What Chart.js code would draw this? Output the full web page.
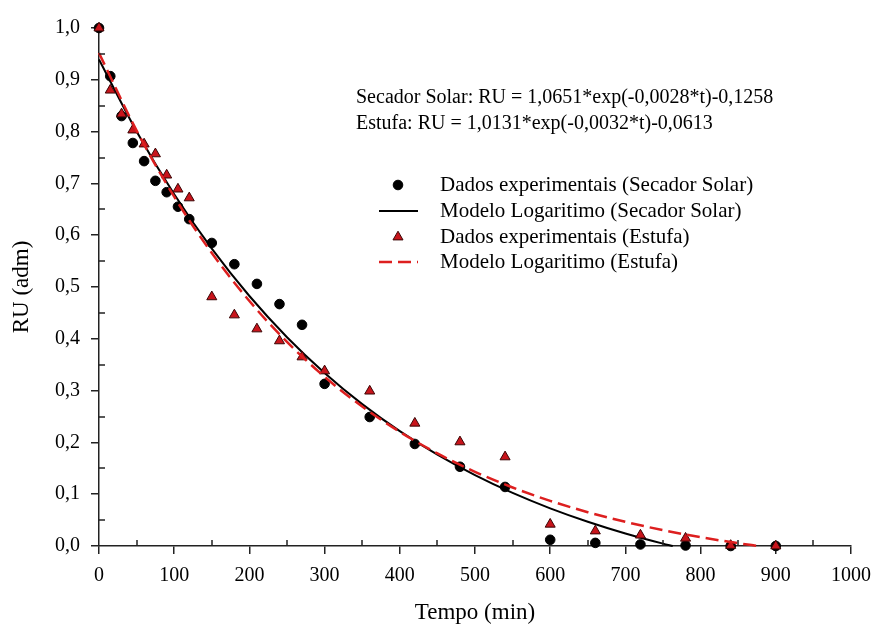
<!DOCTYPE html>
<html>
<head>
<meta charset="utf-8">
<script src="https://cdn.jsdelivr.net/npm/chart.js@4.4.1/dist/chart.umd.min.js"></script>
<style>
  html, body { margin: 0; padding: 0; background: #fff; }
</style>
</head>
<body>
<canvas id="myChart" width="874" height="630"></canvas>
<script>
// tempos de secagem (min)
const tempo = [0, 15, 30, 45, 60, 75, 90, 105, 120, 150, 180, 210, 240, 270, 300, 360, 420, 480, 540, 600, 660, 720, 780, 840, 900];
// razao de umidade medida
const ruSolar  = [1.000, 0.907, 0.830, 0.778, 0.743, 0.705, 0.683, 0.655, 0.631, 0.585, 0.544, 0.506, 0.467, 0.427, 0.313, 0.249, 0.197, 0.153, 0.114, 0.012, 0.006, 0.003, 0.001, 0.000, 0.000];
const ruEstufa = [1.000, 0.880, 0.834, 0.803, 0.776, 0.757, 0.716, 0.689, 0.672, 0.481, 0.446, 0.419, 0.396, 0.365, 0.338, 0.299, 0.237, 0.201, 0.172, 0.042, 0.029, 0.021, 0.015, 0.001, 0.000];

// curvas do modelo ajustado
const tempoModeloSolar = [0, 50, 100, 150, 200, 250, 300, 350, 400, 450, 500, 550, 600, 650, 700, 750, 763];
const ruModeloSolar = [0.9393, 0.8002, 0.6792, 0.5740, 0.4826, 0.4031, 0.3340, 0.2739, 0.2217, 0.1763, 0.1369, 0.1025, 0.0727, 0.0468, 0.0242, 0.0046, 0.0];
const tempoModeloEstufa = [0, 50, 100, 150, 200, 250, 300, 350, 400, 450, 500, 550, 600, 650, 700, 750, 800, 850, 877];
const ruModeloEstufa = [0.9518, 0.8020, 0.6744, 0.5656, 0.4729, 0.3939, 0.3266, 0.2693, 0.2204, 0.1787, 0.1432, 0.1130, 0.0872, 0.0653, 0.0466, 0.0306, 0.0170, 0.0054, 0.0];

const equacoes = [
  'Secador Solar: RU = 1,0651*exp(-0,0028*t)-0,1258',
  'Estufa: RU = 1,0131*exp(-0,0032*t)-0,0613'
];

const serif = '"Liberation Serif", "Times New Roman", serif';
const vermelho = '#dd1f1f';

function pares(xs, ys) {
  return xs.map((x, i) => ({ x: x, y: ys[i] }));
}

const data = {
  datasets: [
    {
      label: 'Dados experimentais (Secador Solar)',
      type: 'scatter',
      data: pares(tempo, ruSolar),
      pointStyle: 'circle',
      pointRadius: 4.8,
      backgroundColor: '#000',
      borderColor: '#000',
      borderWidth: 1,
      clip: false,
      order: 4
    },
    {
      label: 'Modelo Logaritimo (Secador Solar)',
      type: 'line',
      data: pares(tempoModeloSolar, ruModeloSolar),
      borderColor: '#000',
      borderWidth: 2,
      pointRadius: 0,
      cubicInterpolationMode: 'monotone',
      fill: false,
      clip: false,
      order: 3
    },
    {
      label: 'Dados experimentais (Estufa)',
      type: 'scatter',
      data: pares(tempo, ruEstufa),
      pointStyle: 'triangle',
      pointRadius: 5.8,
      backgroundColor: '#c8141b',
      borderColor: '#3a0505',
      borderWidth: 1,
      clip: false,
      order: 2
    },
    {
      label: 'Modelo Logaritimo (Estufa)',
      type: 'line',
      data: pares(tempoModeloEstufa, ruModeloEstufa),
      borderColor: vermelho,
      borderWidth: 2.5,
      borderDash: [13, 6],
      pointRadius: 0,
      cubicInterpolationMode: 'monotone',
      fill: false,
      clip: false,
      order: 1
    }
  ]
};

// tracinhos menores (para dentro) entre as marcas principais
const marcasMenores = {
  id: 'marcasMenores',
  afterDraw(chart) {
    const ctx = chart.ctx, xs = chart.scales.x, ys = chart.scales.y;
    const a = chart.chartArea;
    ctx.save();
    ctx.strokeStyle = '#222';
    ctx.lineWidth = 1.5;
    ctx.beginPath();
    for (let v = 50; v < 1000; v += 100) {
      const px = Math.round(xs.getPixelForValue(v));
      ctx.moveTo(px, a.bottom);
      ctx.lineTo(px, a.bottom - 6);
    }
    for (let v = 0.05; v < 1; v += 0.1) {
      const py = Math.round(ys.getPixelForValue(v));
      ctx.moveTo(a.left, py);
      ctx.lineTo(a.left + 6, py);
    }
    ctx.stroke();
    ctx.restore();
  }
};

// equacoes e legenda dentro da area do grafico
const legendaInterna = {
  id: 'legendaInterna',
  afterDraw(chart) {
    const ctx = chart.ctx;
    const ds = chart.data.datasets;
    ctx.save();
    ctx.fillStyle = '#000';
    ctx.textBaseline = 'middle';
    ctx.textAlign = 'left';
    ctx.font = '20px ' + serif;
    ctx.fillText(equacoes[0], 356, 98);
    ctx.fillText(equacoes[1], 356, 124);

    ctx.font = '21px ' + serif;
    const linhas = [185, 211, 237, 262];
    const xm = 398, xt = 440;
    ds.forEach((d, i) => {
      const y = linhas[i];
      if (d.type === 'scatter') {
        ctx.fillStyle = d.backgroundColor;
        ctx.strokeStyle = d.borderColor;
        ctx.lineWidth = d.borderWidth;
        Chart.helpers.drawPoint(ctx, {
          pointStyle: d.pointStyle,
          radius: d.pointRadius,
          borderWidth: d.borderWidth,
          rotation: 0
        }, xm, y);
      } else {
        ctx.strokeStyle = d.borderColor;
        ctx.lineWidth = d.borderWidth;
        ctx.setLineDash(d.borderDash || []);
        ctx.beginPath();
        ctx.moveTo(379, y);
        ctx.lineTo(418, y);
        ctx.stroke();
        ctx.setLineDash([]);
      }
      ctx.fillStyle = '#000';
      ctx.fillText(d.label, xt, y);
    });
    ctx.restore();
  }
};

const config = {
  type: 'scatter',
  data: data,
  options: {
    responsive: false,
    animation: false,
    layout: { padding: { top: 28, right: 23, left: 0, bottom: 0 } },
    plugins: { legend: { display: false }, tooltip: { enabled: false } },
    scales: {
      x: {
        type: 'linear',
        min: 0,
        max: 1000,
        ticks: {
          stepSize: 100,
          color: '#000',
          padding: 10,
          maxRotation: 0,
          font: { family: serif, size: 20 },
          callback: v => String(v)
        },
        grid: { drawOnChartArea: false, drawTicks: true, tickLength: 8, color: '#222', lineWidth: 1.5 },
        border: { color: '#222', width: 1.5 },
        title: {
          display: true,
          text: 'Tempo (min)',
          color: '#000',
          font: { family: serif, size: 23 },
          padding: { top: 4, bottom: 3 }
        },
        afterFit(s) {
          s.height = 84;
          s.paddingLeft = 0;
          s.paddingRight = 0;
        }
      },
      y: {
        type: 'linear',
        min: 0,
        max: 1,
        ticks: {
          stepSize: 0.1,
          color: '#000',
          padding: 11,
          font: { family: serif, size: 20 },
          callback: v => v.toFixed(1).replace('.', ',')
        },
        grid: { drawOnChartArea: false, drawTicks: true, tickLength: 8, color: '#222', lineWidth: 1.5 },
        border: { color: '#222', width: 1.5 },
        title: {
          display: true,
          text: 'RU (adm)',
          color: '#000',
          font: { family: serif, size: 23 },
          padding: { top: 8, bottom: 0 }
        },
        afterFit(s) {
          s.width = 99;
          s.paddingTop = 0;
          s.paddingBottom = 0;
        }
      }
    }
  },
  plugins: [marcasMenores, legendaInterna]
};

const myChart = new Chart(document.getElementById('myChart'), config);
</script>
</body>
</html>
